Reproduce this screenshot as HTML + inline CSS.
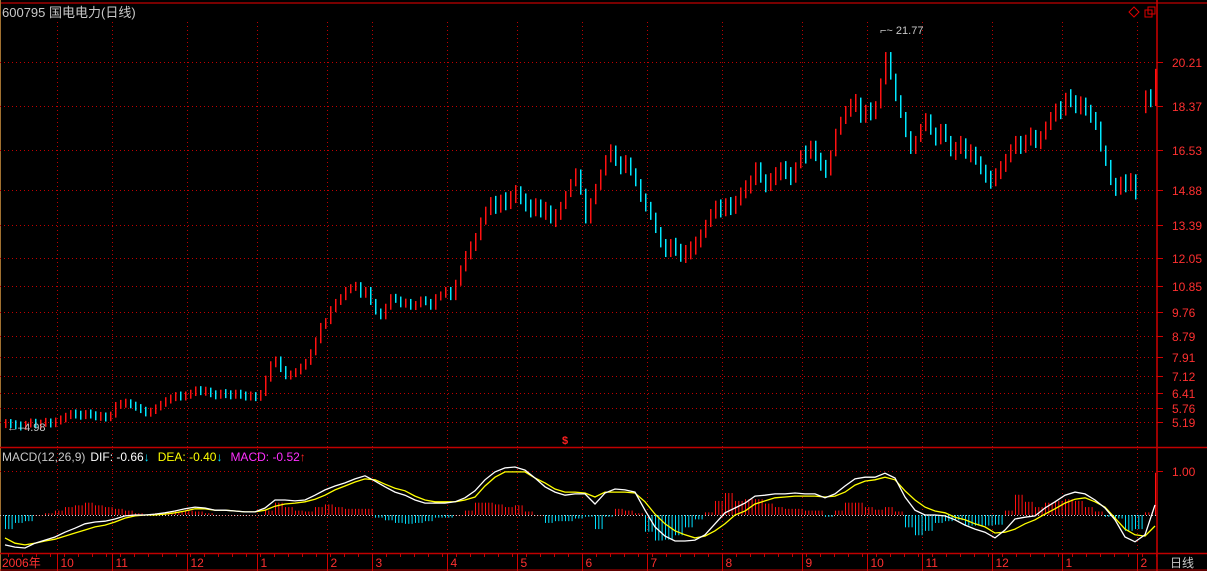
<!DOCTYPE html>
<html><head><meta charset="utf-8"><style>
html,body{margin:0;padding:0;background:#000;}
svg{display:block;font-family:"Liberation Sans","Noto Sans CJK SC",sans-serif;}
</style></head><body>
<svg id="c" width="1207" height="571" viewBox="0 0 1207 571">
<rect x="0" y="0" width="1207" height="571" fill="#000"/>
<line x1="0" y1="3" x2="1207" y2="3" stroke="#a00000" stroke-width="1.5"/>
<line x1="0.5" y1="0" x2="0.5" y2="571" stroke="#a07030"/>
<line x1="1157" y1="0" x2="1157" y2="571" stroke="#d00000" stroke-width="1.5"/>
<line x1="0" y1="447.5" x2="1207" y2="447.5" stroke="#c00000" stroke-width="1.5"/>
<line x1="0" y1="553.5" x2="1207" y2="553.5" stroke="#c00000" stroke-width="1.5"/>
<line x1="0" y1="570" x2="1207" y2="570" stroke="#c00000"/>
<text x="2" y="17" font-size="13" fill="#c8c8c8">600795 国电电力(日线)</text>
<path d="M1134 7 L1139 12 L1134 17 L1129 12 Z" fill="none" stroke="#e00000"/>
<rect x="1145" y="10" width="7" height="7" fill="none" stroke="#e00000"/>
<rect x="1148" y="7" width="7" height="7" fill="none" stroke="#e00000"/>
<g id="grid"></g><g id="bars"></g><g id="macd"></g><g id="axis"></g>
<text x="565" y="444" font-size="11" fill="#ff2020" text-anchor="middle" font-weight="bold">$</text>
<text x="880" y="34" font-size="11" fill="#c8c8c8">⌐~ 21.77</text>
<text x="7" y="431" font-size="11" fill="#c8c8c8">←–4.98</text>
<text x="2" y="461" font-size="12"><tspan fill="#c8c8c8">MACD(12,26,9)</tspan><tspan fill="#ffffff" dx="5">DIF: -0.66</tspan><tspan fill="#00e0ff">↓</tspan><tspan fill="#ffff00" dx="8">DEA: -0.40</tspan><tspan fill="#00e0ff">↓</tspan><tspan fill="#ff30ff" dx="8">MACD: -0.52</tspan><tspan fill="#ff2020">↑</tspan></text>
<text x="1172" y="476" font-size="12" fill="#ff3030">1.00</text>
<text x="1170" y="567" font-size="12" fill="#c8c8c8">日线</text>
</svg>
<script>
const priceTicks=[20.21,18.37,16.53,14.88,13.39,12.05,10.85,9.76,8.79,7.91,7.12,6.41,5.76,5.19];
const monthLabels=["2006年","10","11","12","1","2","3","4","5","6","7","8","9","10","11","12","1","2"];
const monthStartIdx=[0,11,22,37,51,65,74,89,103,116,129,144,160,173,184,198,212,227];
const firstOpen=5.1;
const gapOpen=18.2;
const closes=[
5.15,5.1,5.05,5.0,5.1,5.2,5.05,5.15,5.2,5.1,
5.25,5.3,5.45,5.55,5.5,5.45,5.55,5.5,5.4,5.45,
5.35,5.5,5.9,5.95,6.0,5.9,5.8,5.7,5.55,5.65,
5.8,5.95,6.1,6.2,6.3,6.25,6.3,6.4,6.55,6.45,
6.5,6.35,6.3,6.4,6.35,6.3,6.4,6.3,6.25,6.3,
6.2,6.4,7.0,7.6,7.8,7.4,7.1,7.2,7.3,7.5,
7.7,8.1,8.6,9.2,9.4,9.9,10.2,10.4,10.7,10.8,
10.9,10.5,10.7,10.2,9.8,9.6,10.0,10.4,10.3,10.1,
10.2,10.0,10.1,10.3,10.2,10.0,10.4,10.5,10.7,10.4,
11.0,11.6,12.2,12.5,12.9,13.6,14.0,14.4,14.1,14.5,
14.3,14.6,14.8,14.5,14.2,14.0,14.3,13.9,14.1,13.6,
13.8,14.2,14.7,15.2,15.6,14.8,13.6,14.4,15.0,15.6,
16.2,16.6,16.0,15.8,16.1,15.6,15.2,14.5,14.2,13.8,
13.2,12.6,12.3,12.6,12.4,12.1,12.3,12.4,12.7,13.0,
13.5,13.9,14.2,14.0,14.3,14.1,14.4,14.8,15.0,15.2,
15.9,15.3,15.0,15.4,15.5,15.8,15.6,15.3,15.9,16.4,
16.3,16.8,16.2,15.9,15.6,16.4,17.3,17.8,18.2,18.4,
18.6,17.8,18.3,18.0,18.4,19.4,20.5,19.6,18.7,18.0,
17.2,16.5,17.0,17.5,17.9,17.3,16.9,17.5,17.0,16.4,
16.6,16.9,16.3,16.5,16.1,15.7,15.4,15.2,15.6,15.8,
16.2,16.6,16.9,16.6,17.0,17.2,16.8,17.1,17.6,17.9,
18.3,18.1,18.8,18.6,18.3,18.5,18.2,17.9,17.6,16.6,
16.0,15.2,14.8,15.3,15.0,15.4,14.6,null,18.9,18.5,
19.8];
const dif=[-0.68,-0.73,-0.75,-0.64,-0.57,-0.50,-0.39,-0.30,-0.20,-0.16,-0.14,-0.09,-0.02,0,0,0.02,0.05,0.09,0.14,0.18,0.16,0.11,0.11,0.09,0.07,0.07,0.16,0.34,0.34,0.32,0.34,0.45,0.57,0.66,0.73,0.82,0.89,0.77,0.64,0.52,0.45,0.34,0.27,0.27,0.27,0.30,0.39,0.55,0.80,0.98,1.07,1.09,1.02,0.84,0.64,0.52,0.45,0.48,0.48,0.25,0.50,0.59,0.57,0.52,0.11,-0.27,-0.48,-0.59,-0.59,-0.57,-0.45,-0.20,0.05,0.16,0.27,0.43,0.45,0.48,0.48,0.50,0.48,0.48,0.39,0.48,0.66,0.82,0.86,0.86,0.95,0.84,0.41,0.11,0,0,-0.02,-0.11,-0.23,-0.32,-0.39,-0.52,-0.34,-0.09,-0.05,-0.02,0.16,0.30,0.45,0.52,0.48,0.34,0.16,-0.11,-0.50,-0.61,-0.45,0.23];
const dea=[-0.52,-0.64,-0.68,-0.64,-0.59,-0.55,-0.48,-0.41,-0.34,-0.27,-0.23,-0.16,-0.07,-0.02,0,0,0.02,0.05,0.09,0.14,0.14,0.11,0.11,0.09,0.07,0.07,0.11,0.20,0.25,0.27,0.30,0.36,0.45,0.57,0.66,0.75,0.82,0.80,0.70,0.61,0.55,0.43,0.34,0.30,0.30,0.30,0.34,0.41,0.66,0.86,0.98,0.98,0.98,0.84,0.73,0.59,0.52,0.52,0.50,0.41,0.52,0.52,0.52,0.50,0.30,0.02,-0.20,-0.36,-0.45,-0.52,-0.48,-0.36,-0.20,0,0.09,0.25,0.32,0.39,0.41,0.43,0.43,0.43,0.41,0.43,0.52,0.68,0.77,0.80,0.86,0.80,0.55,0.34,0.18,0.09,0.05,-0.05,-0.11,-0.20,-0.27,-0.41,-0.39,-0.32,-0.20,-0.11,0.02,0.14,0.27,0.36,0.39,0.30,0.18,-0.07,-0.32,-0.45,-0.48,-0.25];

const NS="http://www.w3.org/2000/svg";
function mk(tag,attrs,parent){const e=document.createElementNS(NS,tag);for(const k in attrs)e.setAttribute(k,attrs[k]);parent.appendChild(e);return e;}
const xBar=i=>5+5*i;
const xMacd=i=>5+10*i;
const yPrice=v=>62+(20.21-v)*23.97;
const yMacd=v=>515-v*44;
const grid=document.getElementById('grid'),bars=document.getElementById('bars'),macd=document.getElementById('macd'),axis=document.getElementById('axis');

priceTicks.forEach(t=>{
  const y=Math.round(yPrice(t))+0.5;
  const g=mk('line',{x1:0,y1:y,x2:1157,y2:y,stroke:'#c00000','stroke-dasharray':'1,3'},grid);
  
  
  const tk=mk('line',{x1:1157,y1:y,x2:1163,y2:y,stroke:'#d00000'},grid);
  
  
  const tx=mk('text',{x:1172,y:y+4.5,'font-size':12,fill:'#ff3030'},grid);
  tx.textContent=t.toFixed(2);
  
  
});
[471.5].forEach(y=>{
  const g=mk('line',{x1:0,y1:y,x2:1157,y2:y,stroke:'#c00000','stroke-dasharray':'1,3'},grid);
  
  
  const tk=mk('line',{x1:1157,y1:y,x2:1163,y2:y,stroke:'#d00000'},grid);
  
  
});
monthStartIdx.forEach((idx,k)=>{
  const x=Math.round(xBar(idx)-3)+0.5;
  if(k>0){
    const v=mk('line',{x1:x,y1:22,x2:x,y2:447,stroke:'#c00000','stroke-dasharray':'1,3'},grid);
    
    
    const v2=mk('line',{x1:x,y1:449,x2:x,y2:553,stroke:'#c00000','stroke-dasharray':'1,3'},grid);
    
    
    const s=mk('line',{x1:x,y1:553,x2:x,y2:571,stroke:'#d00000'},axis);
    
    
  }
  const t=mk('text',{x:k>0?x+3:2,y:567,'font-size':12,fill:'#ff3030'},axis);
  t.textContent=monthLabels[k];
  
  
});
for(let x=8;x<1157;x+=14){
  const m=mk('line',{x1:x+0.5,y1:554,x2:x+0.5,y2:557,stroke:'#c00000'},axis);
  
  
}

let prev=firstOpen;
closes.forEach((c,i)=>{
  if(c===null){prev=gapOpen;return;}
  const o=prev;prev=c;
  let y0=yPrice(Math.max(o,c))-3,y1=yPrice(Math.min(o,c))+3;
  const minH=c>12?18:9;
  if(y1-y0<minH){const m=(y0+y1)/2;y0=m-minH/2;y1=m+minH/2;}
  const up=c>=o;
  const b=mk('rect',{x:xBar(i),y:y0,width:1.5,height:y1-y0,fill:up?'#ff1010':'#00e8ff'},bars);
  
  
});

const zl=mk('line',{x1:0,y1:515.5,x2:1157,y2:515.5,stroke:'#d0d0d0','stroke-dasharray':'1,2'},macd);


dif.forEach((d,i)=>{
  const h=2*(d-dea[i]);
  [0,3.3,6.6].forEach(off=>{
    const x=xMacd(i)+off;
    if(x>1156)return;
    const y0=Math.min(yMacd(0),yMacd(h)),y1=Math.max(yMacd(0),yMacd(h));
    const r=mk('rect',{x:x,y:y0,width:1,height:Math.max(y1-y0,0.5),fill:h>=0?'#ff1010':'#00e0ff'},macd);
    
    
  });
});
function line(arr,color,name){
  const pts=arr.map((v,i)=>xMacd(i)+','+yMacd(v).toFixed(1)).join(' ');
  const p=mk('polyline',{points:pts,fill:'none',stroke:color,'stroke-width':1.3},macd);
  
  
}
line(dea,'#ffff00','dea-line');
line(dif,'#ffffff','dif-line');
</script>
</body></html>
